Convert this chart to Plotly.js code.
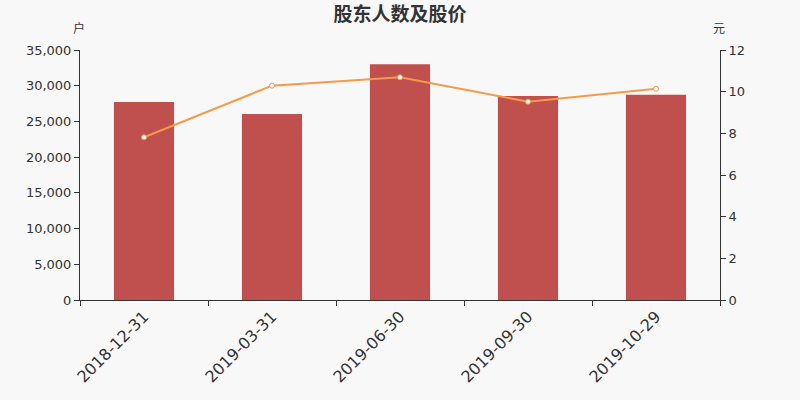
<!DOCTYPE html>
<html><head><meta charset="utf-8">
<script src="https://cdn.plot.ly/plotly-3.0.1.min.js"></script>
<style>html,body{margin:0;padding:0;background:#f8f8f8;}</style>
</head><body>
<div id="chart" style="width:800px;height:400px;"></div>
<script>
const categories = ["2018-12-31", "2019-03-31", "2019-06-30", "2019-09-30", "2019-10-29"];
const holders = [27720, 26040, 33000, 28560, 28750];
const prices = [7.81, 10.29, 10.69, 9.52, 10.14];

const font = "'DejaVu Sans', 'Noto Sans CJK SC', sans-serif";
const cjk = "'Noto Sans CJK SC', 'DejaVu Sans', sans-serif";
const data = [
  {type: "bar", x: categories, y: holders, marker: {color: "#c0504d"}, width: 0.47,
   hoverinfo: "x+y", yaxis: "y"},
  {type: "scatter", mode: "lines+markers", x: categories, y: prices, yaxis: "y2",
   line: {color: "#f5994b", width: 2},
   marker: {size: 5, color: "#ffffff", line: {color: "#f5994b", width: 1}}}
];
const layout = {
  width: 800, height: 400,
  paper_bgcolor: "#f8f8f8", plot_bgcolor: "#f8f8f8",
  margin: {l: 80, r: 80, t: 50, b: 100},
  showlegend: false,
  font: {family: font, color: "#333", size: 13},
  title: {text: "<b>股东人数及股价</b>", x: 0.5, xanchor: "center", y: 0.965, yanchor: "middle",
          font: {family: cjk, size: 19, color: "#333"}},
  xaxis: {type: "category", showline: true, linecolor: "#333", linewidth: 1, ticks: "outside", ticklen: 5,
          tickcolor: "#333", tickson: "boundaries", tickangle: -45, showgrid: false,
          tickfont: {size: 16, color: "#333"}, zeroline: false},
  yaxis: {range: [0, 35000], dtick: 5000, tickformat: ",d", showline: true, linecolor: "#333",
          ticks: "outside", ticklen: 5, tickcolor: "#333", showgrid: false, zeroline: false,
          tickfont: {size: 13, color: "#333"}},
  yaxis2: {range: [0, 12], dtick: 2, overlaying: "y", side: "right", showline: true,
           linecolor: "#333", ticks: "outside", ticklen: 5, tickcolor: "#333", showgrid: false,
           zeroline: false, tickfont: {size: 13, color: "#333"}},
  annotations: [
    {text: "户", xref: "paper", yref: "paper", x: 0, y: 1, xanchor: "center", yanchor: "bottom",
     xshift: -1, yshift: 12, showarrow: false, font: {family: cjk, size: 12, color: "#333"}},
    {text: "元", xref: "paper", yref: "paper", x: 1, y: 1, xanchor: "center", yanchor: "bottom",
     xshift: -1, yshift: 12, showarrow: false, font: {family: cjk, size: 12, color: "#333"}}
  ]
};
Plotly.newPlot("chart", data, layout, {displayModeBar: false});
</script>
</body></html>
